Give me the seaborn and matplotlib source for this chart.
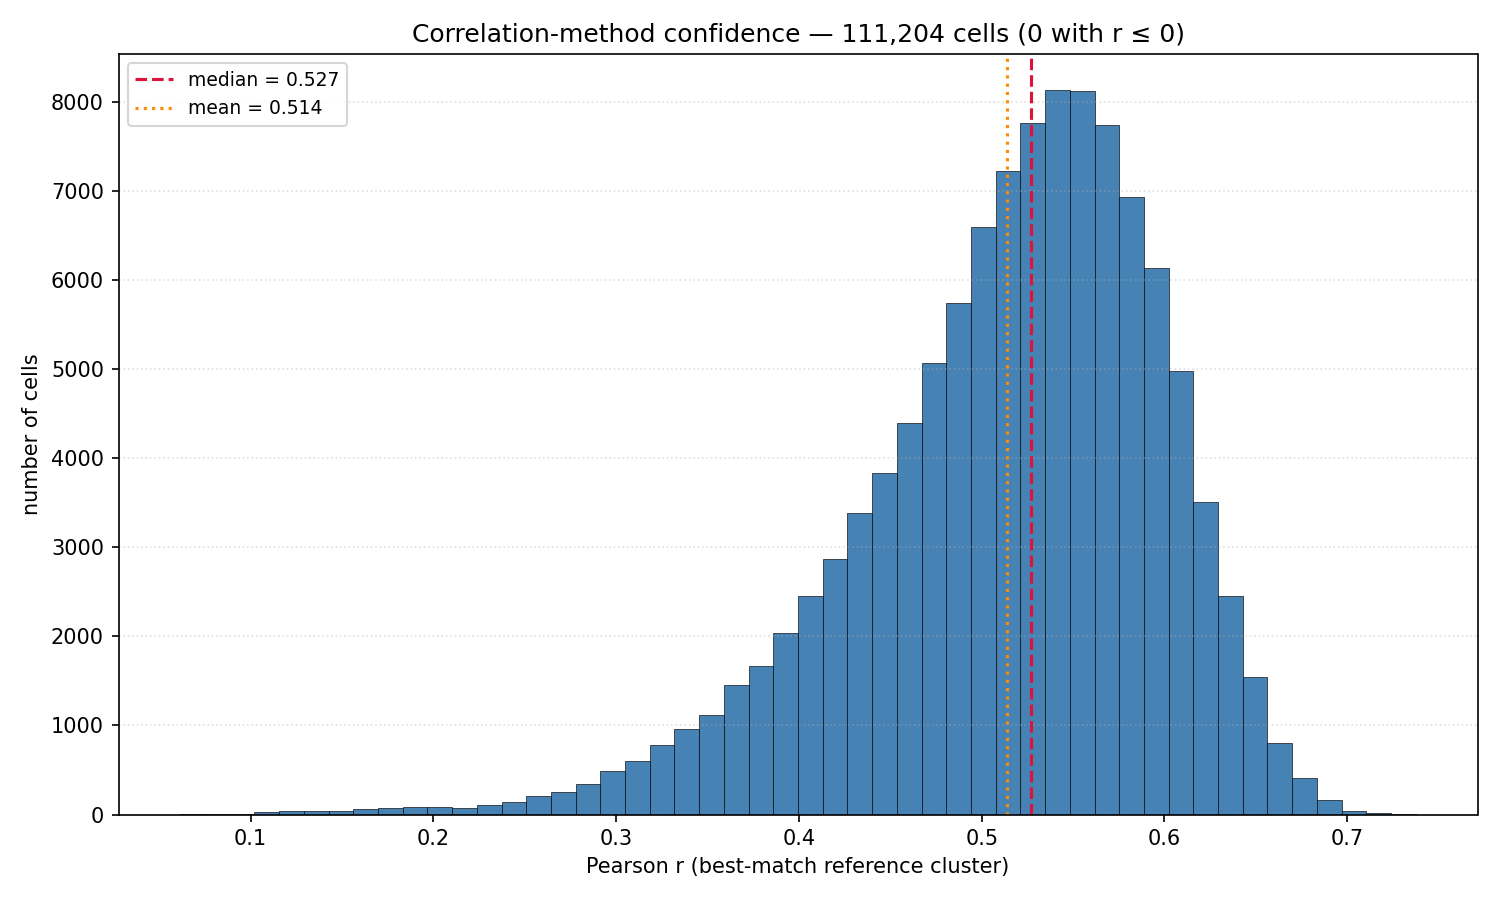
import numpy as np
import pandas as pd
import matplotlib
matplotlib.use("Agg")
import matplotlib.pyplot as plt
import seaborn as sns

# ---- data ----
r_min = 0.0615
r_max = 0.7375
n_bins = 50
counts = [1, 2, 4, 26, 41, 41, 41, 60, 71, 82,
          82, 71, 105, 142, 206, 251, 341, 487, 599, 779,
          959, 1120, 1459, 1669, 2038, 2455, 2872, 3380, 3831, 4399,
          5064, 5744, 6589, 7222, 7765, 8128, 8117, 7742, 6928, 6128,
          4974, 3507, 2450, 1541, 802, 410, 164, 41, 15, 5]
median_r = 0.527
mean_r = 0.514
n_cells = 111204
n_nonpos = 0
title = f"Correlation-method confidence \u2014 {n_cells:,} cells ({n_nonpos} with r \u2264 0)"
xlabel = "Pearson r (best-match reference cluster)"
ylabel = "number of cells"

edges = np.linspace(r_min, r_max, n_bins + 1)
centers = (edges[:-1] + edges[1:]) / 2
df = pd.DataFrame({"r": centers, "n": np.array(counts, dtype=float)})

plt.rcParams['font.family'] = ['DejaVu Sans']
fig, ax = plt.subplots(figsize=(10, 6), dpi=150)
sns.histplot(data=df, x="r", weights="n", bins=[float(e) for e in edges], ax=ax,
             color="steelblue", alpha=1.0, edgecolor="black", linewidth=0.3)
ax.axvline(median_r, color="crimson", linestyle="--", linewidth=1.5,
           label=f"median = {median_r:.3f}")
ax.axvline(mean_r, color="darkorange", linestyle=":", linewidth=1.5,
           label=f"mean = {mean_r:.3f}")
ax.set_title(title, fontsize=12)
ax.set_xlabel(xlabel, fontsize=10)
ax.set_ylabel(ylabel, fontsize=10)
ax.grid(axis="y", linestyle=":", alpha=0.4)
ax.legend(loc="upper left", fontsize=9)
fig.tight_layout()
fig.savefig("out.png", dpi=150)
